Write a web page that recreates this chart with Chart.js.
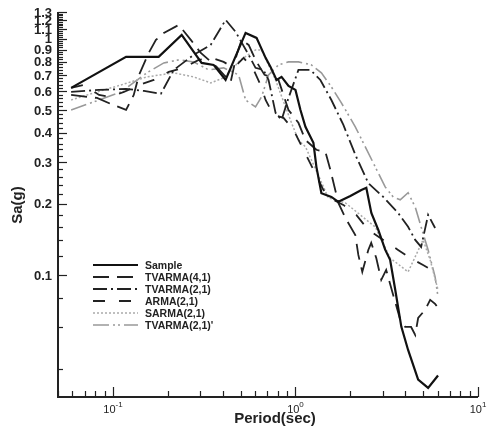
<!DOCTYPE html>
<html>
<head>
<meta charset="utf-8">
<script src="https://cdn.jsdelivr.net/npm/chart.js@4/dist/chart.umd.min.js"></script>
<style>
  body { margin: 0; background: #fff; }
  canvas { display: block; }
</style>
</head>
<body>
<canvas id="spectra" width="487" height="435"></canvas>
<script>
// response spectra: period (sec) vs Sa (g)
const seriesNames = ['Sample', 'TVARMA(4,1)', 'TVARMA(2,1)', 'ARMA(2,1)', 'SARMA(2,1)', "TVARMA(2,1)'"];

const periodSample = [0.059, 0.118, 0.178, 0.238, 0.306, 0.356, 0.414, 0.533, 0.612, 0.686, 0.730, 0.788, 0.839, 0.916, 1.0, 1.065, 1.134, 1.254, 1.302, 1.387, 1.573, 1.718, 1.998, 2.296, 2.444, 2.604, 2.843, 3.10, 3.30, 3.52, 3.80, 4.14, 4.70, 5.33, 6.04];
const saSample = [0.620, 0.839, 0.839, 1.04, 0.791, 0.776, 0.670, 1.06, 1.01, 0.831, 0.761, 0.670, 0.690, 0.632, 0.608, 0.500, 0.424, 0.363, 0.287, 0.222, 0.214, 0.204, 0.216, 0.229, 0.234, 0.183, 0.155, 0.128, 0.116, 0.0865, 0.0604, 0.0481, 0.0360, 0.0332, 0.0375];

const periodTv41 = [0.059, 0.0721, 0.0818, 0.0975, 0.118, 0.130, 0.139, 0.157, 0.172, 0.190, 0.2295, 0.267, 0.303, 0.335, 0.370, 0.4145, 0.4415, 0.476, 0.507, 0.554, 0.612, 0.677, 0.807, 0.916, 1.038, 1.134, 1.302, 1.459, 1.553, 1.718, 1.876, 2.127, 2.21, 2.323, 2.506, 2.60, 2.771, 2.951, 3.14, 3.43, 3.75, 3.99, 4.30, 4.53, 4.70, 5.13, 5.47, 5.82, 6.04];
const saTv41 = [0.579, 0.568, 0.562, 0.530, 0.500, 0.579, 0.704, 0.872, 0.990, 1.060, 1.146, 0.990, 0.872, 0.815, 0.761, 0.690, 0.657, 0.856, 0.990, 0.943, 0.799, 0.704, 0.670, 0.500, 0.441, 0.373, 0.339, 0.332, 0.279, 0.202, 0.1745, 0.1477, 0.1216, 0.103, 0.1276, 0.1367, 0.118, 0.0953, 0.105, 0.0823, 0.0645, 0.0602, 0.0602, 0.0557, 0.0657, 0.0711, 0.0784, 0.0754, 0.0725];

const periodTv21 = [0.059, 0.0839, 0.118, 0.148, 0.183, 0.2155, 0.277, 0.343, 0.4145, 0.470, 0.554, 0.604, 0.668, 0.712, 0.778, 0.839, 0.916, 1.038, 1.208, 1.369, 1.573, 1.830, 2.154, 2.506, 3.026, 3.65, 4.14, 4.53, 4.88, 5.33, 5.82];
const saTv21 = [0.596, 0.608, 0.614, 0.602, 0.585, 0.739, 0.856, 0.943, 1.204, 1.071, 0.856, 0.754, 0.739, 0.670, 0.486, 0.454, 0.562, 0.739, 0.739, 0.670, 0.551, 0.432, 0.316, 0.245, 0.214, 0.183, 0.160, 0.1407, 0.1314, 0.1796, 0.158];

const periodArma = [0.059, 0.0694, 0.0839, 0.0975, 0.1148, 0.139, 0.1675, 0.2023, 0.2444, 0.295, 0.348, 0.404, 0.458, 0.520, 0.590, 0.644, 0.686, 0.758, 0.860, 0.975, 1.106, 1.254, 1.422, 1.614, 1.830, 2.154, 2.506, 3.026, 3.65, 4.25, 5.00, 5.82];
const saArma = [0.620, 0.638, 0.579, 0.568, 0.596, 0.638, 0.670, 0.725, 0.754, 0.815, 0.831, 0.799, 0.754, 0.831, 0.739, 0.638, 0.551, 0.476, 0.463, 0.412, 0.339, 0.279, 0.229, 0.208, 0.198, 0.1796, 0.155, 0.1407, 0.1276, 0.118, 0.1102, 0.103];

const periodSarma = [0.059, 0.0818, 0.1106, 0.1533, 0.2155, 0.2771, 0.343, 0.404, 0.5005, 0.604, 0.652, 0.778, 0.882, 0.951, 1.038, 1.134, 1.223, 1.369, 1.514, 1.876, 2.265, 2.735, 3.30, 4.14, 4.58, 5.00, 5.47, 6.04];
const saSarma = [0.551, 0.596, 0.638, 0.690, 0.718, 0.690, 0.651, 0.684, 0.815, 0.898, 0.898, 0.670, 0.515, 0.441, 0.373, 0.349, 0.307, 0.253, 0.212, 0.202, 0.1796, 0.1597, 0.118, 0.103, 0.1216, 0.1407, 0.1158, 0.0864];

const periodTv21b = [0.059, 0.0787, 0.1106, 0.1533, 0.190, 0.2295, 0.2771, 0.3346, 0.404, 0.488, 0.533, 0.604, 0.652, 0.712, 0.807, 0.916, 1.038, 1.223, 1.387, 1.573, 1.784, 2.127, 2.413, 2.735, 3.10, 3.43, 3.75, 4.14, 4.53, 4.88, 5.33, 5.82, 6.04];
const saTv21b = [0.500, 0.541, 0.596, 0.718, 0.791, 0.815, 0.799, 0.739, 0.754, 0.704, 0.551, 0.515, 0.568, 0.704, 0.776, 0.799, 0.799, 0.776, 0.718, 0.626, 0.536, 0.424, 0.349, 0.287, 0.236, 0.214, 0.208, 0.223, 0.194, 0.1597, 0.1276, 0.0981, 0.0807];

const xLabels = [[0.1, '10', '-1'], [1, '10', '0'], [10, '10', '1']];
const yLabels = [0.1, 0.2, 0.3, 0.4, 0.5, 0.6, 0.7, 0.8, 0.9, 1, 1.1, 1.2, 1.3];

const FONT = '"Liberation Sans", Arial, sans-serif';

function pts(px, py) {
  return px.map((p, i) => ({ x: p, y: py[i] }));
}

function line(label, px, py, color, width, dash) {
  return {
    label: label,
    data: pts(px, py),
    borderColor: color,
    borderWidth: width,
    borderDash: dash,
    pointRadius: 0,
    tension: 0,
    fill: false
  };
}

// axes, ticks, titles and key are drawn by hand
const frame = {
  id: 'frame',
  afterDraw(chart) {
    const ctx = chart.ctx;
    const xs = chart.scales.x, ys = chart.scales.y;
    const a = chart.chartArea;
    ctx.save();
    ctx.setLineDash([]);
    ctx.strokeStyle = '#222';
    ctx.lineWidth = 2;
    ctx.beginPath();
    ctx.moveTo(a.left, a.top);
    ctx.lineTo(a.left, a.bottom);
    ctx.lineTo(a.right, a.bottom);
    ctx.stroke();

    // y ticks every 0.02
    ctx.lineWidth = 1.2;
    for (let i = 2; i <= 65; i++) {
      const y = Math.round(ys.getPixelForValue(i / 50)) + 0.5;
      const len = i % 5 === 0 ? 9 : 5;
      ctx.beginPath();
      ctx.moveTo(a.left, y);
      ctx.lineTo(a.left + len, y);
      ctx.stroke();
    }
    // x ticks per decade
    for (let d = -2; d <= 1; d++) {
      for (let m = 1; m <= 9; m++) {
        const v = m * Math.pow(10, d);
        if (v < 0.05 - 1e-9 || v > 10 + 1e-9) continue;
        const x = Math.round(xs.getPixelForValue(v)) + 0.5;
        const len = m === 1 ? 10 : 6;
        ctx.beginPath();
        ctx.moveTo(x, a.bottom);
        ctx.lineTo(x, a.bottom - len);
        ctx.stroke();
      }
    }

    // y labels
    ctx.fillStyle = '#222';
    ctx.font = 'bold 13px ' + FONT;
    ctx.textAlign = 'right';
    ctx.textBaseline = 'middle';
    yLabels.forEach(v => {
      ctx.fillText(String(v), a.left - 6, ys.getPixelForValue(v) + 1);
    });

    // x labels with exponent
    xLabels.forEach(([v, base, exp]) => {
      const x = xs.getPixelForValue(v);
      ctx.font = '11px ' + FONT;
      const wb = ctx.measureText(base).width;
      ctx.font = '8px ' + FONT;
      const we = ctx.measureText(exp).width;
      const x0 = x - (wb + we) / 2;
      ctx.textAlign = 'left';
      ctx.textBaseline = 'alphabetic';
      ctx.font = '11px ' + FONT;
      ctx.fillText(base, x0, a.bottom + 16);
      ctx.font = '8px ' + FONT;
      ctx.fillText(exp, x0 + wb, a.bottom + 10);
    });

    // axis titles
    ctx.font = 'bold 15px ' + FONT;
    ctx.textAlign = 'center';
    ctx.textBaseline = 'middle';
    ctx.fillText('Period(sec)', 275, 419);
    ctx.save();
    ctx.translate(18, 205);
    ctx.rotate(-Math.PI / 2);
    ctx.fillText('Sa(g)', 0, 0);
    ctx.restore();

    // key
    ctx.font = 'bold 10.5px ' + FONT;
    ctx.textAlign = 'left';
    chart.data.datasets.forEach((ds, i) => {
      const y = 265 + i * 12;
      ctx.strokeStyle = ds.borderColor;
      ctx.lineWidth = ds.borderWidth;
      ctx.setLineDash(ds.borderDash);
      ctx.beginPath();
      ctx.moveTo(93, y);
      ctx.lineTo(138, y);
      ctx.stroke();
      ctx.setLineDash([]);
      ctx.fillStyle = '#222';
      ctx.fillText(ds.label, 145, y + 1);
    });
    ctx.restore();
  }
};

new Chart(document.getElementById('spectra'), {
  type: 'line',
  data: {
    datasets: [
      line(seriesNames[0], periodSample, saSample, '#111', 2.2, []),
      line(seriesNames[1], periodTv41, saTv41, '#222', 1.8, [16, 8]),
      line(seriesNames[2], periodTv21, saTv21, '#222', 1.8, [14, 4, 2, 4]),
      line(seriesNames[3], periodArma, saArma, '#222', 1.8, [12, 14]),
      line(seriesNames[4], periodSarma, saSarma, '#aaa', 1.5, [2, 2]),
      line(seriesNames[5], periodTv21b, saTv21b, '#999', 1.6, [16, 4, 2, 3, 2, 4])
    ]
  },
  options: {
    responsive: false,
    animation: false,
    devicePixelRatio: 1,
    layout: { padding: { top: 12, right: 9, left: 0, bottom: 0 } },
    plugins: { legend: { display: false }, tooltip: { enabled: false } },
    scales: {
      x: {
        type: 'logarithmic',
        min: 0.05,
        max: 10,
        grid: { display: false },
        border: { display: false },
        ticks: { display: false },
        afterFit(scale) { scale.height = 38; }
      },
      y: {
        type: 'logarithmic',
        min: 0.0304,
        max: 1.3,
        grid: { display: false },
        border: { display: false },
        ticks: { display: false },
        afterFit(scale) { scale.width = 58; }
      }
    }
  },
  plugins: [frame]
});
</script>
</body>
</html>
